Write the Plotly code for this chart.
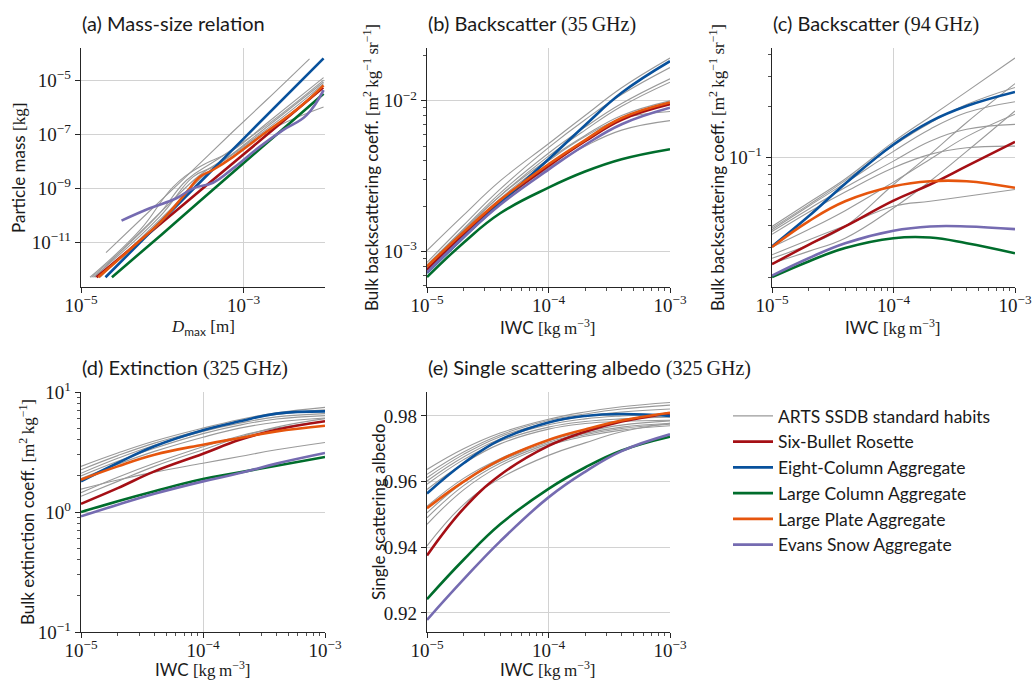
import plotly.graph_objects as go

# ---------------- data ----------------
IWC = [1e-5, 2e-5, 4e-5, 1e-4, 2e-4, 4e-4, 1e-3]

# (a) mass-size relation: (Dmax [m], mass [kg]) per habit
a_red_D = [1.55e-5, 1e-4, 3e-4, 1e-3, 3e-3, 9.5e-3]
a_red_m = [4.9e-13, 5.4e-11, 8.7e-10, 1.8e-8, 2.9e-7, 5.4e-6]
a_blue_D = [2e-5, 1e-4, 1e-3, 9.6e-3]
a_blue_m = [4.9e-13, 6.5e-11, 6.9e-8, 6.5e-5]
a_green_D = [2.4e-5, 1e-4, 3e-4, 1e-3, 3e-3, 9.6e-3]
a_green_m = [4.9e-13, 2.0e-11, 3.6e-10, 8.5e-9, 1.5e-7, 3.2e-6]
a_orange_D = [1.63e-5, 4.39e-5, 1.0e-4, 2.0e-4, 2.88e-4, 4.17e-4, 7.41e-4, 1.91e-3, 4.9e-3, 9.6e-3]
a_orange_m = [4.9e-13, 6.8e-12, 6.5e-11, 7.2e-10, 2.6e-9, 4.7e-9, 1.45e-8, 1.23e-7, 1.02e-6, 6.5e-6]
a_purple_D = [3.15e-5, 7.0e-5, 1.49e-4, 2.39e-4, 4.2e-4, 7.4e-4, 1.57e-3, 3.04e-3, 5.9e-3, 9.6e-3]
a_purple_m = [6.2e-11, 1.78e-10, 4.2e-10, 9.8e-10, 1.58e-9, 5.4e-9, 3.4e-8, 1.41e-7, 5.0e-7, 4.3e-6]
a_gray_D = [
    [2.03e-5, 5.8e-5, 1.64e-4, 7.4e-4, 1.91e-3, 6.45e-3],
    [1.29e-5, 5.3e-5, 1.36e-4, 2.88e-4, 7.4e-4, 1.91e-3, 9.6e-3],
    [1.42e-5, 9.3e-5, 2.39e-4, 4.62e-4, 1.19e-3, 9.6e-3],
    [1.71e-5, 1.12e-4, 3.48e-4, 8.9e-4, 2.29e-3, 9.6e-3],
    [1.48e-5, 1.12e-4, 2.88e-4, 7.4e-4, 3.04e-3, 9.6e-3],
    [1.35e-5, 8.5e-5, 2.0e-4, 4.62e-4, 1.91e-3, 9.6e-3],
]
a_gray_m = [
    [4.0e-12, 8.3e-11, 1.6e-9, 1.26e-7, 1.86e-6, 6.3e-5],
    [4.9e-13, 2.75e-11, 1.12e-9, 6.2e-9, 2.57e-8, 2.5e-7, 1.26e-5],
    [4.9e-13, 8.7e-11, 2.6e-9, 7.1e-9, 6.0e-8, 8.7e-6],
    [4.9e-13, 1.15e-10, 3.5e-9, 2.57e-8, 1.62e-7, 1.02e-6],
    [4.9e-13, 2.04e-10, 3.0e-9, 1.9e-8, 4.4e-7, 7.6e-6],
    [4.9e-13, 8.7e-11, 2.0e-9, 1.1e-8, 2.14e-7, 1.02e-5],
]

# (b) backscatter 35 GHz
b_red = [7.6e-4, 1.30e-3, 2.15e-3, 3.70e-3, 5.4e-3, 7.5e-3, 9.5e-3]
b_blue = [7.25e-4, 1.25e-3, 2.10e-3, 4.10e-3, 6.9e-3, 1.13e-2, 1.83e-2]
b_green = [6.8e-4, 1.15e-3, 1.80e-3, 2.66e-3, 3.4e-3, 4.1e-3, 4.78e-3]
b_orange = [8.0e-4, 1.35e-3, 2.20e-3, 3.80e-3, 5.5e-3, 7.7e-3, 9.75e-3]
b_purple = [7.3e-4, 1.25e-3, 2.05e-3, 3.50e-3, 5.1e-3, 7.0e-3, 9.0e-3]
b_gray = [
    [1.02e-3, 1.75e-3, 2.95e-3, 5.2e-3, 8.0e-3, 1.22e-2, 1.92e-2],
    [8.5e-4, 1.5e-3, 2.6e-3, 4.9e-3, 7.5e-3, 1.1e-2, 1.66e-2],
    [8.2e-4, 1.42e-3, 2.45e-3, 4.5e-3, 6.7e-3, 9.6e-3, 1.40e-2],
    [8.0e-4, 1.38e-3, 2.35e-3, 4.3e-3, 6.4e-3, 9.2e-3, 1.33e-2],
    [7.8e-4, 1.33e-3, 2.25e-3, 4.0e-3, 5.8e-3, 7.6e-3, 8.5e-3],
    [7.6e-4, 1.28e-3, 2.1e-3, 3.6e-3, 5.0e-3, 6.4e-3, 7.4e-3],
    [8.1e-4, 1.4e-3, 2.35e-3, 4.1e-3, 5.9e-3, 8.0e-3, 1.0e-2],
]

# (c) backscatter 94 GHz
c_red = [0.0238, 0.0309, 0.0396, 0.0561, 0.0697, 0.0893, 0.124]
c_blue = [0.0302, 0.0454, 0.0705, 0.1197, 0.163, 0.201, 0.243]
c_green = [0.0200, 0.0247, 0.0296, 0.0338, 0.0341, 0.0316, 0.0276]
c_orange = [0.0300, 0.0424, 0.0556, 0.0681, 0.0729, 0.0729, 0.0667]
c_purple = [0.0204, 0.0258, 0.0316, 0.0374, 0.0396, 0.0396, 0.0382]
c_gray = [
    [0.0396, 0.0545, 0.0751, 0.124, 0.174, 0.244, 0.384],
    [0.0258, 0.0309, 0.0396, 0.0697, 0.1047, 0.161, 0.272],
    [0.0241, 0.0283, 0.0338, 0.0508, 0.0729, 0.109, 0.188],
    [0.0379, 0.052, 0.071, 0.109, 0.147, 0.184, 0.213],
    [0.037, 0.050, 0.067, 0.0956, 0.125, 0.147, 0.157],
    [0.0356, 0.048, 0.063, 0.0874, 0.1047, 0.1145, 0.117],
    [0.027, 0.033, 0.040, 0.052, 0.0556, 0.0595, 0.0652],
    [0.0387, 0.053, 0.0735, 0.118, 0.16, 0.205, 0.258],
    [0.030, 0.038, 0.049, 0.072, 0.098, 0.133, 0.18],
]

# (d) extinction 325 GHz
d_red = [1.17, 1.58, 2.18, 3.06, 4.0, 4.85, 5.7]
d_blue = [1.80, 2.56, 3.53, 4.8, 5.7, 6.6, 6.9]
d_green = [1.0, 1.23, 1.49, 1.88, 2.14, 2.43, 2.87]
d_orange = [1.86, 2.4, 3.0, 3.64, 4.14, 4.7, 5.24]
d_purple = [0.92, 1.15, 1.42, 1.80, 2.11, 2.53, 3.1]
d_gray = [
    [2.4, 3.1, 3.9, 5.0, 5.9, 6.7, 7.45],
    [2.25, 2.95, 3.75, 4.85, 5.75, 6.5, 7.1],
    [2.1, 2.8, 3.6, 4.7, 5.5, 6.2, 6.6],
    [2.0, 2.65, 3.4, 4.5, 5.3, 5.95, 6.35],
    [1.9, 2.5, 3.2, 4.2, 5.0, 5.6, 6.07],
    [1.45, 1.95, 2.55, 3.5, 4.3, 5.0, 5.7],
    [1.55, 1.85, 2.15, 2.55, 2.9, 3.3, 3.8],
    [1.35, 1.8, 2.4, 3.3, 4.2, 5.1, 6.0],
]

# (e) single scattering albedo 325 GHz
e_red = [0.9375, 0.9518, 0.9620, 0.9709, 0.9752, 0.9783, 0.9808]
e_blue = [0.9564, 0.9656, 0.9727, 0.9780, 0.9800, 0.9806, 0.9800]
e_green = [0.9242, 0.9362, 0.9470, 0.9578, 0.9643, 0.9695, 0.9737]
e_orange = [0.9519, 0.9600, 0.9666, 0.9727, 0.9759, 0.9786, 0.9810]
e_purple = [0.9179, 0.9302, 0.9418, 0.9552, 0.9630, 0.9693, 0.9744]
e_gray = [
    [0.9637, 0.9700, 0.9748, 0.9790, 0.9812, 0.9828, 0.9841],
    [0.9622, 0.9690, 0.9742, 0.9786, 0.9806, 0.9821, 0.9833],
    [0.9612, 0.9683, 0.9737, 0.9780, 0.9800, 0.9812, 0.9821],
    [0.9602, 0.9675, 0.9730, 0.9773, 0.9791, 0.9800, 0.9806],
    [0.9592, 0.9667, 0.9723, 0.9766, 0.9783, 0.9791, 0.9796],
    [0.9576, 0.9655, 0.9715, 0.9760, 0.9777, 0.9784, 0.9787],
    [0.9525, 0.9610, 0.9670, 0.9725, 0.9752, 0.9772, 0.9785],
    [0.9505, 0.9598, 0.9662, 0.9720, 0.9747, 0.9766, 0.9778],
    [0.9490, 0.9588, 0.9656, 0.9715, 0.9743, 0.9762, 0.9775],
    [0.9470, 0.9575, 0.9648, 0.9710, 0.9738, 0.9757, 0.9770],
    [0.9404, 0.9530, 0.9610, 0.9680, 0.9718, 0.9752, 0.9778],
]

NAMES = ["Six-Bullet Rosette", "Eight-Column Aggregate", "Large Column Aggregate",
         "Large Plate Aggregate", "Evans Snow Aggregate"]
GRAY_NAME = "ARTS SSDB standard habits"

# ---------------- styling ----------------
W, H = 1033, 681
RED, BLUE, GREEN, ORANGE, PURPLE = "#a50f15", "#08519c", "#006d2c", "#e6550d", "#756bb1"
COLS = [RED, BLUE, GREEN, ORANGE, PURPLE]
GRAY = "#9a9a9a"
SANS = "Lato"
SERIF = "Liberation Serif"
INK = "#1a1a1a"


def xd(a, b):
    return [a / W, b / W]


def yd(top, bot):
    return [1 - bot / H, 1 - top / H]


fig = go.Figure()


def add_lines(ax, xs_list, ys_list, colored_x, colored_y, legend=False):
    xa, ya = ax
    for i, (xs, ys) in enumerate(zip(xs_list, ys_list)):
        fig.add_trace(go.Scatter(x=xs, y=ys, mode="lines", xaxis=xa, yaxis=ya,
                                 line=dict(color=GRAY, width=1.1, shape="spline", smoothing=1.2),
                                 name=GRAY_NAME, legendgroup="gray",
                                 showlegend=legend and i == 0, hoverinfo="skip"))
    for k, (xs, ys) in enumerate(zip(colored_x, colored_y)):
        fig.add_trace(go.Scatter(x=xs, y=ys, mode="lines", xaxis=xa, yaxis=ya,
                                 line=dict(color=COLS[k], width=2.6, shape="spline", smoothing=1.2),
                                 name=NAMES[k], legendgroup=NAMES[k],
                                 showlegend=legend, hoverinfo="skip"))


add_lines(("x", "y"), a_gray_D, a_gray_m,
          [a_red_D, a_blue_D, a_green_D, a_orange_D, a_purple_D],
          [a_red_m, a_blue_m, a_green_m, a_orange_m, a_purple_m])
add_lines(("x2", "y2"), [IWC] * len(b_gray), b_gray, [IWC] * 5,
          [b_red, b_blue, b_green, b_orange, b_purple], legend=True)
add_lines(("x3", "y3"), [IWC] * len(c_gray), c_gray, [IWC] * 5,
          [c_red, c_blue, c_green, c_orange, c_purple])
add_lines(("x4", "y4"), [IWC] * len(d_gray), d_gray, [IWC] * 5,
          [d_red, d_blue, d_green, d_orange, d_purple])
add_lines(("x5", "y5"), [IWC] * len(e_gray), e_gray, [IWC] * 5,
          [e_red, e_blue, e_green, e_orange, e_purple])


def pw(e):
    return "10<sup>\u2212%d</sup>" % (-e) if e < 0 else "10<sup>%d</sup>" % e


def minor_log(lo, hi):
    vals = []
    for e in range(lo, hi):
        for m in range(2, 10):
            vals.append(m * 10.0 ** e)
    return vals


MINOR = dict(ticks="outside", ticklen=3, tickwidth=0.8, tickcolor="#262626", showgrid=False)


def ax_base(**kw):
    d = dict(showline=True, linecolor="#262626", linewidth=1.2, ticks="outside",
             ticklen=5, tickwidth=1, tickcolor="#262626", showgrid=True,
             gridcolor="#d2d2d2", gridwidth=1, zeroline=False, mirror=False,
             tickfont=dict(family=SERIF, size=19, color=INK), fixedrange=True,
             automargin=False)
    d.update(kw)
    return d


def logx(anchor, dom, rng, tv, minor=True):
    d = ax_base(type="log", domain=dom, range=rng, anchor=anchor, ticklabelstandoff=-4,
                tickmode="array", tickvals=[10.0 ** e for e in tv], ticktext=[pw(e) for e in tv])
    if minor:
        d["minor"] = dict(tickmode="array", tickvals=minor_log(-5, -3), **MINOR)
    return d


ROW1 = yd(48, 287)
ROW2 = yd(392, 632)
COL1 = xd(81, 325)
COL2 = xd(427, 670)
COL3 = xd(772, 1015)

layout = dict(
    width=W, height=H, margin=dict(l=0, r=0, t=0, b=0, pad=0, autoexpand=False),
    paper_bgcolor="white", plot_bgcolor="white",
    showlegend=True,
    legend=dict(x=728 / W, y=1 - 398 / H, xanchor="left", yanchor="top",
                font=dict(family=SANS, size=17.5, color=INK), bgcolor="rgba(0,0,0,0)",
                tracegroupgap=0, itemwidth=40, traceorder="normal"),
)

layout["xaxis"] = logx("y", COL1, [-5, -2.0], [-5, -3], minor=False)
layout["yaxis"] = ax_base(type="log", domain=ROW1, range=[-12.67, -3.8], anchor="x",
                          tickmode="array", tickvals=[10.0 ** e for e in [-11, -9, -7, -5]],
                          ticktext=[pw(e) for e in [-11, -9, -7, -5]])
layout["xaxis2"] = logx("y2", COL2, [-5, -3], [-5, -4, -3])
layout["yaxis2"] = ax_base(type="log", domain=ROW1, range=[-3.233, -1.65], anchor="x2",
                           tickmode="array", tickvals=[1e-3, 1e-2], ticktext=[pw(-3), pw(-2)],
                           minor=dict(tickmode="array", tickvals=minor_log(-4, -1), **MINOR))
layout["xaxis3"] = logx("y3", COL3, [-5, -3], [-5, -4, -3])
layout["yaxis3"] = ax_base(type="log", domain=ROW1, range=[-1.757, -0.357], anchor="x3",
                           tickmode="array", tickvals=[1e-1], ticktext=[pw(-1)],
                           minor=dict(tickmode="array", tickvals=minor_log(-2, 0), **MINOR))
layout["xaxis4"] = logx("y4", COL1, [-5, -3], [-5, -4, -3])
layout["yaxis4"] = ax_base(type="log", domain=ROW2, range=[-1, 1], anchor="x4",
                           tickmode="array", tickvals=[1e-1, 1, 10], ticktext=[pw(-1), pw(0), pw(1)],
                           minor=dict(tickmode="array", tickvals=minor_log(-1, 1), **MINOR))
layout["xaxis5"] = logx("y5", COL2, [-5, -3], [-5, -4, -3])
layout["yaxis5"] = ax_base(domain=ROW2, range=[0.9142, 0.9873], anchor="x5",
                           tickmode="array", tickvals=[0.92, 0.94, 0.96, 0.98],
                           ticktext=["0.92", "0.94", "0.96", "0.98"])

fig.update_layout(**layout)


def ser(t):
    return "<span style='font-family:%s'>%s</span>" % (SERIF, t)


ann = []
TFONT = dict(family=SANS, size=20, color=INK)
LFONT = dict(family=SANS, size=17, color=INK)

titles = [
    (80, 23, "(a) Mass-size relation"),
    (426, 23, "(b) Backscatter " + ser("(35\u2009GHz)")),
    (771, 23, "(c) Backscatter " + ser("(94\u2009GHz)")),
    (80, 367, "(d) Extinction " + ser("(325\u2009GHz)")),
    (426, 367, "(e) Single scattering albedo " + ser("(325\u2009GHz)")),
]
for x, y, t in titles:
    ann.append(dict(x=x / W, y=1 - y / H, xref="paper", yref="paper", text=t, showarrow=False,
                    xanchor="left", yanchor="middle", font=TFONT))

IWC_LABEL = "IWC " + ser("[kg\u2009m<sup>\u22123</sup>]")
xlabels = [
    (203, 327, "<i>" + ser("D") + "</i><sub>max</sub> " + ser("[m]")),
    (548, 327, IWC_LABEL),
    (893, 327, IWC_LABEL),
    (203, 669, IWC_LABEL),
    (548, 669, IWC_LABEL),
]
for x, y, t in xlabels:
    ann.append(dict(x=x / W, y=1 - y / H, xref="paper", yref="paper", text=t, showarrow=False,
                    xanchor="center", yanchor="middle", font=LFONT))

BACK = "Bulk backscattering coeff. " + ser("[m<sup>2</sup>\u2009kg<sup>\u22121</sup>\u2009sr<sup>\u22121</sup>]")
ylabels = [
    (18, 168, "Particle mass " + ser("[kg]")),
    (371, 168, BACK),
    (717, 168, BACK),
    (27, 512, "Bulk extinction coeff. " + ser("[m<sup>2</sup>\u2009kg<sup>\u22121</sup>]")),
    (378, 512, "Single scattering albedo"),
]
for x, y, t in ylabels:
    ann.append(dict(x=x / W, y=1 - y / H, xref="paper", yref="paper", text=t, showarrow=False,
                    xanchor="center", yanchor="middle", textangle=-90, font=LFONT))

fig.update_layout(annotations=ann)
fig.write_html(
    "out.html",
    config={"displayModeBar": False, "staticPlot": True},
    post_script="document.documentElement.style.overflow='hidden';"
                "document.body.style.margin='0';document.body.style.overflow='hidden';",
)
